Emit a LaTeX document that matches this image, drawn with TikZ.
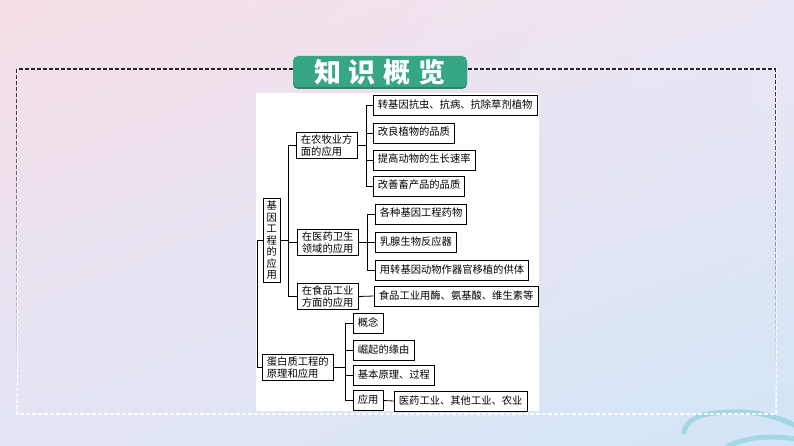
\documentclass[tikz,border=0pt]{standalone}
\usepackage{fontspec}
\usepackage{xcolor}
\usetikzlibrary{calc,fadings,shadings}
\newfontfamily\cjk{Noto Sans CJK SC}
\definecolor{bgpink}{HTML}{F6DEE7}
\definecolor{bglilac}{HTML}{EBE6F3}
\definecolor{bgmist}{HTML}{E3E5F5}
\definecolor{bgblue}{HTML}{D2E5F8}
\definecolor{bannergreen}{HTML}{37A686}
\definecolor{bannershade}{HTML}{2A8768}
\definecolor{wavecyan}{HTML}{A3D8E2}
\tikzfading[name=fadedown, top color=transparent!0, bottom color=transparent!100]
\tikzset{
	box/.style={
			draw=black, line width=0.8pt, fill=white, anchor=west,
			font=\cjk\fontsize{10.3}{11.5}\selectfont,
			text height=8pt, text depth=2pt, inner xsep=4.5pt, inner ysep=5pt
		},
	twoline/.style={box, align=left, text height={}, text depth={}, inner ysep=2.5pt},
	upright/.style={twoline, align=center, inner xsep=3.3pt, inner ysep=3pt},
	link/.style={line width=0.8pt, black},
	wave/.style={wavecyan, line width=5pt, line cap=round}
}

\begin{document}
\begin{tikzpicture}[x=1pt, y=-1pt]
		\useasboundingbox (0,0) rectangle (794,446);
		\shade [upper left=bgpink, upper right=bglilac, lower left=bgmist, lower right=bgblue]
			(0,0) rectangle (794,446);
		% waves in the corner
		\draw [wave] (684,432) .. controls (686,420) and (700,414) .. (716,413)
			.. controls (745,410) and (770,412) .. (800,428);
		\draw [wave] (728,446) .. controls (750,436) and (775,435) .. (800,440);
		% frame
		\draw [white, line width=1.2pt, dash pattern=on 4pt off 2pt] (17,69) rectangle (776,414);
		\draw [black!85, line width=1.3pt, dash pattern=on 4pt off 2pt, path fading=fadedown]
			(17,69) rectangle (776,414);
		\fill [bannershade, rounded corners=5pt] (293,58) rectangle (467,89);
		\fill [bannergreen, rounded corners=5pt] (293,56) rectangle (467,87);
		\node (title) [white, font=\cjk\bfseries\fontsize{27}{27}\selectfont] at (380,72)
			{知\hspace{8pt}识\hspace{8pt}概\hspace{8pt}览};
		\fill [white] (256,93) rectangle (539,411);

		\node (root) [upright] at (263,240.5) {基\\因\\工\\程\\的\\应\\用};
		\node (farm) [twoline] at (296,145.5) {在农牧业方\\面的应用};
		\node (med) [twoline] at (297,242.5) {在医药卫生\\领域的应用};
		\node (food) [twoline] at (297,296.5) {在食品工业\\方面的应用};
		\node (prot) [twoline] at (262,367.5) {蛋白质工程的\\原理和应用};

		\node (farmA) [box] at (373,105.5) {转基因抗虫、抗病、抗除草剂植物};
		\node (farmB) [box] at (373,133) {改良植物的品质};
		\node (farmC) [box] at (373,160) {提高动物的生长速率};
		\node (farmD) [box] at (373,186) {改善畜产品的品质};

		\node (medA) [box] at (375,214) {各种基因工程药物};
		\node (medB) [box] at (375,242) {乳腺生物反应器};
		\node (medC) [box] at (375,270) {用转基因动物作器官移植的供体};

		\node (foodA) [box] at (374,296) {食品工业用酶、氨基酸、维生素等};

		\node (protA) [box] at (353,323.5) {概念};
		\node (protB) [box] at (353,350) {崛起的缘由};
		\node (protC) [box] at (353,375.5) {基本原理、过程};
		\node (protD) [box] at (353,400.5) {应用};
		\node (use) [box] at (394,401) {医药工业、其他工业、农业};

		\draw [link] (root.east) -- (288,240.5) coordinate (rootfork);
		\foreach \child in {farm,med,food}
			\draw [link] (rootfork) |- (\child.west);
		\draw [link] (root.west) -- ++(-6,0) |- (prot.west);

		\draw [link] (farm.east) -- (366,145.5) coordinate (farmfork);
		\foreach \leaf in {farmA,farmB,farmC,farmD}
			\draw [link] (farmfork) |- (\leaf.west);

		\draw [link] (med.east) -- (367,242.5) coordinate (medfork);
		\foreach \leaf in {medA,medB,medC}
			\draw [link] (medfork) |- (\leaf.west);

		\draw [link] (food.east) -- (foodA.west);

		\draw [link] (prot.east) -- (345,367.5) coordinate (protfork);
		\foreach \leaf in {protA,protB,protC,protD}
			\draw [link] (protfork) |- (\leaf.west);
		\draw [link] (protD.east) -- (use.west);
	\end{tikzpicture}
\end{document}
